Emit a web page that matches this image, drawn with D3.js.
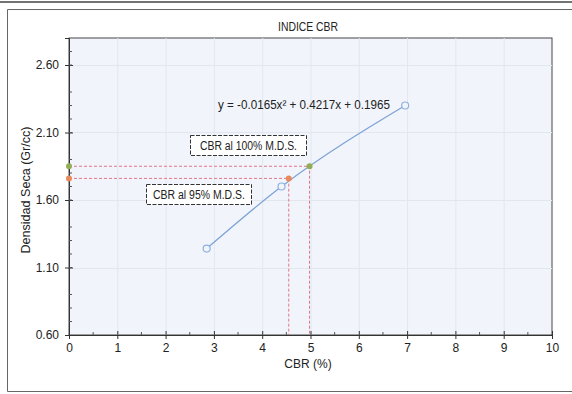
<!DOCTYPE html>
<html>
<head>
<meta charset="utf-8">
<script src="https://cdn.jsdelivr.net/npm/d3@7"></script>
<style>
  html, body { margin: 0; padding: 0; background: #fff; }
  svg { display: block; font-family: "Liberation Sans", Arial, sans-serif; }
</style>
</head>
<body>
<svg id="chart" width="572" height="394"></svg>
<script>
// Ensayo CBR: densidad seca vs. CBR
const cbrValues = [2.85, 4.40, 6.96];
const densityValues = [1.24, 1.70, 2.30];
const xTicks = [0, 1, 2, 3, 4, 5, 6, 7, 8, 9, 10];
const yTicks = [0.60, 1.10, 1.60, 2.10, 2.60];
// Puntos de lectura: CBR al 95% y al 100% de la M.D.S.
const refLabels = ["CBR al 95% M.D.S.", "CBR al 100% M.D.S."];
const refCbr = [4.55, 4.98];
const refDensity = [1.76, 1.85];
const refColors = ["#ea8a5c", "#93ad55"];
const equation = "y = -0.0165x² + 0.4217x + 0.1965";

const svg = d3.select("#chart");
const plot = { left: 69, right: 552, top: 38, bottom: 335 };

const x = d3.scaleLinear().domain([0, 10]).range([plot.left, plot.right]);
const y = d3.scaleLinear().domain([0.6, 2.8]).range([plot.bottom, plot.top]);

// page rule and chart frame
svg.append("line").attr("x1", 0).attr("x2", 572).attr("y1", 2).attr("y2", 2)
  .attr("stroke", "#444").attr("stroke-width", 1.5);
svg.append("path").attr("d", "M572,9.5 H7.5 V391.5 H572")
  .attr("fill", "none").attr("stroke", "#666").attr("stroke-width", 1);

// plot area
svg.append("rect")
  .attr("x", plot.left).attr("y", plot.top)
  .attr("width", plot.right - plot.left).attr("height", plot.bottom - plot.top)
  .attr("fill", "#f1f5fb").attr("stroke", "#444").attr("stroke-width", 1);

// grid
const grid = svg.append("g").attr("stroke", "#e2e7ee").attr("stroke-width", 1);
grid.selectAll("line.v").data(xTicks.slice(1, -1)).join("line")
  .attr("x1", d => x(d) + 0.5).attr("x2", d => x(d) + 0.5)
  .attr("y1", plot.top).attr("y2", plot.bottom);
grid.selectAll("line.h").data(yTicks.slice(1)).join("line")
  .attr("y1", d => Math.round(y(d)) + 0.5).attr("y2", d => Math.round(y(d)) + 0.5)
  .attr("x1", plot.left).attr("x2", plot.right);

// axes
const xAxis = svg.append("g")
  .attr("transform", `translate(0,${plot.bottom})`)
  .call(d3.axisBottom(x).tickValues(xTicks).tickFormat(d3.format("d")).tickSize(4).tickPadding(4));
xAxis.selectAll(".tick line").attr("y1", -4).attr("y2", 4);
const yAxis = svg.append("g")
  .attr("transform", `translate(${plot.left},0)`)
  .call(d3.axisLeft(y).tickValues(yTicks).tickFormat(d3.format(".2f")).tickSize(4).tickPadding(6));
yAxis.selectAll(".tick line").attr("x1", -4).attr("x2", 4);
[xAxis, yAxis].forEach(a => {
  a.select(".domain").attr("stroke", "#333");
  a.selectAll(".tick line").attr("stroke", "#333");
  a.selectAll("text").attr("fill", "#222").attr("font-size", 12);
});

// minor ticks
svg.append("g").selectAll("line").data(d3.range(0.7, 2.8, 0.1).filter(v => Math.abs((v * 10) % 5) > 0.01))
  .join("line")
  .attr("x1", plot.left).attr("x2", plot.left + 3)
  .attr("y1", d => y(d)).attr("y2", d => y(d)).attr("stroke", "#555");
svg.append("g").selectAll("line").data(d3.range(0.5, 10, 1))
  .join("line")
  .attr("x1", d => x(d)).attr("x2", d => x(d))
  .attr("y1", plot.bottom).attr("y2", plot.bottom - 3).attr("stroke", "#555");

// guide lines for the reference readings
const guides = svg.append("g").attr("stroke", "#e27584").attr("stroke-width", 1)
  .attr("stroke-dasharray", "3,2").attr("fill", "none");
refCbr.forEach((c, i) => {
  guides.append("path")
    .attr("d", `M${x(0)},${y(refDensity[i])} H${x(c)} V${y(0.6)}`);
});

// curve through the test points
const line = d3.line().x(d => x(d[0])).y(d => y(d[1])).curve(d3.curveMonotoneX);
const pts = cbrValues.map((c, i) => [c, densityValues[i]]);
svg.append("path").datum(pts).attr("d", line)
  .attr("fill", "none").attr("stroke", "#7ea3d6").attr("stroke-width", 1.3);

svg.append("g").selectAll("circle").data(pts).join("circle")
  .attr("cx", d => x(d[0])).attr("cy", d => y(d[1])).attr("r", 3.5)
  .attr("fill", "#f1f5fb").attr("stroke", "#8fb0e0").attr("stroke-width", 1.2);

// reference markers on the curve and on the axis
refCbr.forEach((c, i) => {
  [[c, refDensity[i]], [0, refDensity[i]]].forEach(p => {
    svg.append("circle").attr("cx", x(p[0])).attr("cy", y(p[1])).attr("r", 3)
      .attr("fill", refColors[i]);
  });
});

// label boxes
const boxes = [
  { text: refLabels[1], x: 190.5, y: 135.5, w: 116, h: 20, tw: 97 },
  { text: refLabels[0], x: 146.5, y: 184.5, w: 105, h: 20, tw: 92 }
];
boxes.forEach(b => {
  svg.append("rect").attr("x", b.x).attr("y", b.y).attr("width", b.w).attr("height", b.h)
    .attr("fill", "#fff").attr("stroke", "#333").attr("stroke-width", 1)
    .attr("stroke-dasharray", "4,1.5");
  svg.append("text").attr("x", b.x + b.w / 2).attr("y", b.y + 14.5)
    .attr("text-anchor", "middle").attr("font-size", 12).attr("fill", "#222")
    .attr("textLength", b.tw).attr("lengthAdjust", "spacingAndGlyphs")
    .text(b.text);
});

// equation
svg.append("text").attr("x", 218).attr("y", 109).attr("font-size", 12).attr("fill", "#222")
  .attr("textLength", 172).attr("lengthAdjust", "spacingAndGlyphs").text(equation);

// titles
svg.append("text").attr("x", 308).attr("y", 31).attr("text-anchor", "middle")
  .attr("font-size", 13).attr("fill", "#222")
  .attr("textLength", 60).attr("lengthAdjust", "spacingAndGlyphs").text("INDICE CBR");
svg.append("text").attr("x", 308).attr("y", 368).attr("text-anchor", "middle")
  .attr("font-size", 12).attr("fill", "#222").text("CBR  (%)");
svg.append("text").attr("transform", "translate(30,190) rotate(-90)")
  .attr("text-anchor", "middle").attr("font-size", 13).attr("fill", "#222")
  .attr("textLength", 127).attr("lengthAdjust", "spacingAndGlyphs")
  .text("Densidad Seca  (Gr/cc)");
</script>
</body>
</html>
